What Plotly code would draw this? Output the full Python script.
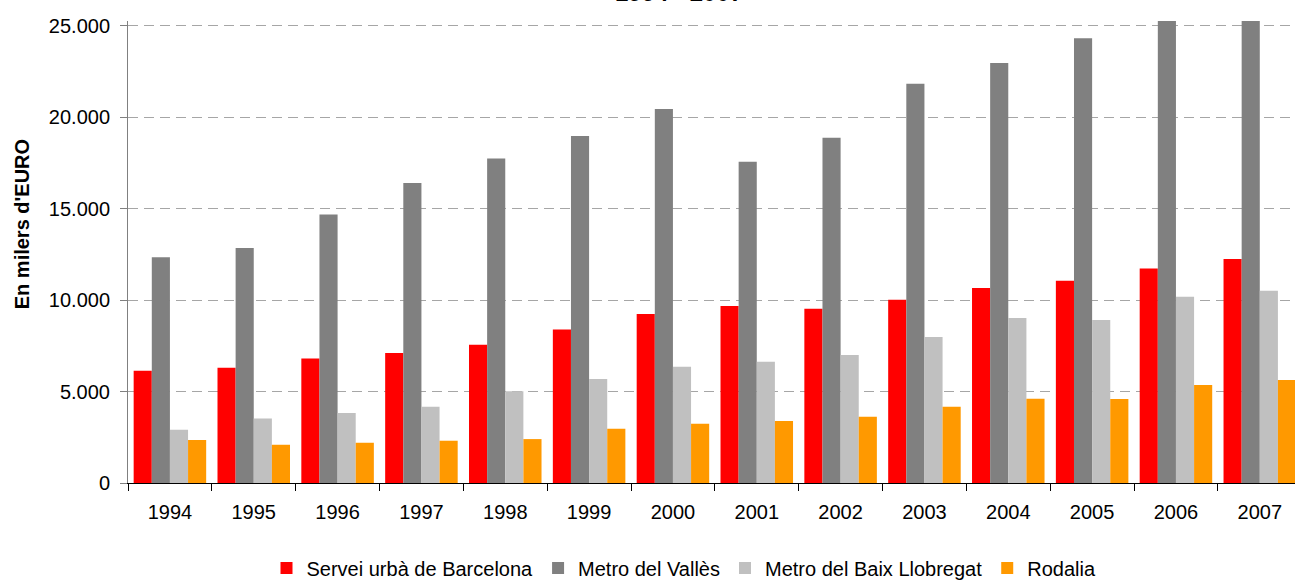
import plotly.graph_objects as go

years = ["1994", "1995", "1996", "1997", "1998", "1999", "2000",
         "2001", "2002", "2003", "2004", "2005", "2006", "2007"]

servei_urba_bcn = [6130, 6300, 6810, 7100, 7560, 8390, 9230,
                   9670, 9520, 10020, 10660, 11050, 11730, 12240]
metro_valles = [12340, 12840, 14670, 16400, 17740, 18960, 20440,
                17560, 18870, 21820, 22950, 24310, 26200, 27400]
metro_baix_llobregat = [2910, 3530, 3830, 4170, 5010, 5680, 6360,
                        6630, 6990, 7980, 9020, 8910, 10180, 10510]
rodalia = [2350, 2090, 2200, 2310, 2400, 2970, 3240,
           3390, 3620, 4170, 4610, 4590, 5360, 5630]

series_names = ["Servei urbà de Barcelona", "Metro del Vallès",
                "Metro del Baix Llobregat", "Rodalia"]
series_values = [servei_urba_bcn, metro_valles, metro_baix_llobregat, rodalia]
series_colors = ["#FF0000", "#808080", "#C0C0C0", "#FF9900"]

FONT = "Liberation Sans, Arial, sans-serif"

fig = go.Figure()
for name, vals, col in zip(series_names, series_values, series_colors):
    fig.add_trace(go.Bar(x=years, y=vals, name=name,
                         marker=dict(color=col, line=dict(width=0))))

fig.update_layout(
    width=1295, height=580,
    autosize=False,
    margin=dict(l=128, r=0, t=21, b=97, autoexpand=False),
    paper_bgcolor="white", plot_bgcolor="white",
    barmode="group", bargap=0.135, bargroupgap=0,
    separators=",.",
    font=dict(family=FONT, size=20, color="black"),
    showlegend=True,
    legend=dict(orientation="h", xref="container", yref="container",
                x=684 / 1295, xanchor="center",
                y=1 - 568 / 580, yanchor="middle",
                font=dict(family=FONT, size=20, color="black"),
                itemwidth=30, traceorder="normal"),
    xaxis=dict(type="category", range=[-0.5, 13.42], automargin=False,
               showline=True, linecolor="black", linewidth=1,
               ticks="outside", tickson="boundaries", ticklen=7,
               tickcolor="black", showgrid=False,
               ticklabelstandoff=11,
               tickfont=dict(family=FONT, size=20, color="black")),
    yaxis=dict(range=[0, 25250], tick0=0, dtick=5000, tickformat=",d",
               automargin=False,
               showline=True, linecolor="#808080", linewidth=1,
               ticks="outside", ticklen=7, tickcolor="#808080",
               showgrid=True, gridcolor="#A6A6A6", gridwidth=1,
               griddash="10px,6px", zeroline=False,
               ticklabelstandoff=6,
               tickfont=dict(family=FONT, size=20, color="black")),
    annotations=[
        dict(text="<b>En milers d'EURO</b>", xref="paper", yref="paper",
             x=-0.0913, y=0.561, xanchor="center", yanchor="middle",
             textangle=-90, showarrow=False,
             font=dict(family=FONT, size=20, color="black")),
        dict(text="<b>1994 - 2007</b>", xref="paper", yref="paper",
             x=(679 - 128) / 1167, y=1.028, xanchor="center", yanchor="bottom",
             showarrow=False,
             font=dict(family=FONT, size=24, color="black")),
    ],
)

fig.write_html(
    "out.html",
    config={"displayModeBar": False},
    post_script="document.body.style.margin='0';document.body.style.overflow='hidden';",
)
